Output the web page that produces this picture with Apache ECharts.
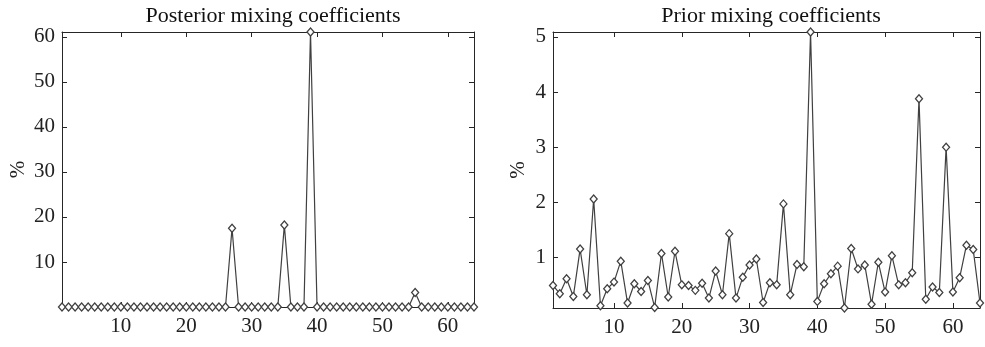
<!DOCTYPE html>
<html>
<head>
<meta charset="utf-8">
<script src="https://cdn.jsdelivr.net/npm/echarts@6/dist/echarts.min.js"></script>
<style>
html,body{margin:0;padding:0;background:#fff;}
#c{width:985px;height:347px;}
</style>
</head>
<body>
<div id="c"></div>
<script>
// ---- data ----
var components = [];
for (var i = 1; i <= 64; i++) components.push(i);

var posterior = [
  0,0,0,0,0,0,0,0,0,0,
  0,0,0,0,0,0,0,0,0,0,
  0,0,0,0,0,0,17.5,0,0,0,
  0,0,0,0,18.2,0,0,0,61.1,0,
  0,0,0,0,0,0,0,0,0,0,
  0,0,0,0,3.2,0,0,0,0,0,
  0,0,0,0
];

var prior = [
  0.49,0.34,0.61,0.29,1.15,0.32,2.06,0.12,0.43,0.55,
  0.93,0.17,0.52,0.38,0.58,0.09,1.07,0.28,1.11,0.50,
  0.49,0.40,0.53,0.26,0.75,0.32,1.43,0.26,0.64,0.86,
  0.97,0.18,0.54,0.50,1.97,0.32,0.87,0.83,5.09,0.20,
  0.52,0.70,0.84,0.08,1.16,0.79,0.86,0.15,0.91,0.37,
  1.03,0.50,0.54,0.72,3.88,0.24,0.46,0.36,3.00,0.37,
  0.63,1.22,1.14,0.17
];

var xTicks = [10,20,30,40,50,60];
var yTicksPosterior = [10,20,30,40,50,60];
var yTicksPrior = [1,2,3,4,5];
var titles = ['Posterior mixing coefficients', 'Prior mixing coefficients'];
var yName = '%';

// ---- chart ----
var FONT = 'Liberation Serif';
var FS = 21;
var AX = '#262626';
var chart = echarts.init(document.getElementById('c'), null, {renderer:'canvas'});

function pairs(xs, ys){ return xs.map(function(x,i){ return [x, ys[i]]; }); }
function minOf(a){ return Math.min.apply(null,a); }
function maxOf(a){ return Math.max.apply(null,a); }

function xAx(gi, pos, show){
  return {
    type:'value', gridIndex:gi, position:pos, min:1, max:64,
    axisLine:{show:true, onZero:false, lineStyle:{color:AX, width:1}},
    axisTick:{show:true, inside:true, length:5, customValues:xTicks, lineStyle:{color:AX}},
    axisLabel:{show:show, customValues:xTicks, margin:9, fontFamily:FONT, fontSize:FS, color:'#222'},
    splitLine:{show:false}
  };
}
function yAx(gi, pos, show, mn, mx, ticks, nameGap){
  return {
    type:'value', gridIndex:gi, position:pos, min:mn, max:mx,
    name: show ? yName : '', nameLocation:'middle', nameRotate:90, nameGap:nameGap,
    nameTextStyle:{fontFamily:FONT, fontSize:FS, color:'#222'},
    axisLine:{show:true, onZero:false, lineStyle:{color:AX, width:1}},
    axisTick:{show:true, inside:true, length:5, customValues:ticks, lineStyle:{color:AX}},
    axisLabel:{show:show, customValues:ticks, margin:7, fontFamily:FONT, fontSize:FS, color:'#222'},
    splitLine:{show:false}
  };
}

var pMin = 0, pMax = maxOf(posterior);
var qMin = minOf(prior), qMax = maxOf(prior);

function series(xi, yi, data){
  return {
    type:'line', xAxisIndex:xi, yAxisIndex:yi, data:data,
    symbol:'diamond', symbolSize:[7,8], showAllSymbol:true,
    lineStyle:{color:'#404040', width:1.2},
    itemStyle:{color:'#fff', borderColor:'#404040', borderWidth:1.3},
    animation:false, silent:true, clip:false
  };
}

chart.setOption({
  animation:false,
  backgroundColor:'#fff',
  title:[
    {text:titles[0], left:268, top:0, textAlign:'center', textStyle:{fontFamily:FONT, fontSize:22, fontWeight:'normal', color:'#111'}},
    {text:titles[1], left:766, top:0, textAlign:'center', textStyle:{fontFamily:FONT, fontSize:22, fontWeight:'normal', color:'#111'}}
  ],
  grid:[
    {left:62, width:412, top:32, height:275},
    {left:553, width:427, top:32, height:276}
  ],
  xAxis:[ xAx(0,'bottom',true), xAx(0,'top',false), xAx(1,'bottom',true), xAx(1,'top',false) ],
  yAxis:[
    yAx(0,'left',true,pMin,pMax,yTicksPosterior,33),
    yAx(0,'right',false,pMin,pMax,yTicksPosterior,0),
    yAx(1,'left',true,qMin,qMax,yTicksPrior,24),
    yAx(1,'right',false,qMin,qMax,yTicksPrior,0)
  ],
  series:[
    series(0,0,pairs(components,posterior)),
    series(2,2,pairs(components,prior))
  ]
});
</script>
</body>
</html>
